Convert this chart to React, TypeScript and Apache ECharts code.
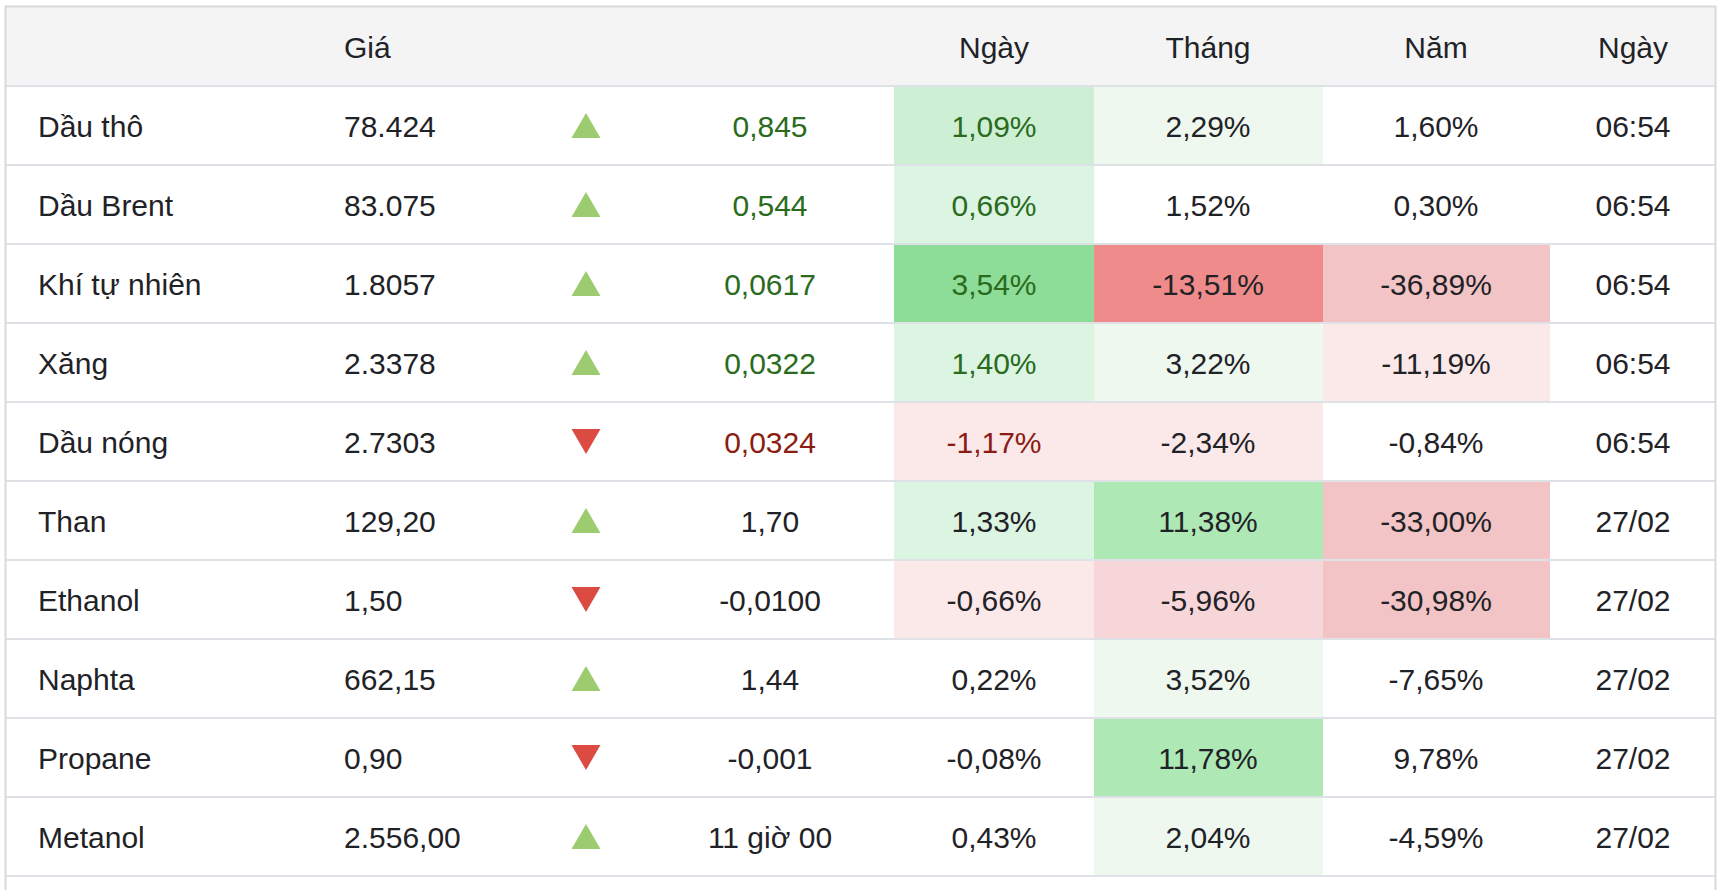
import React, { useEffect, useRef } from "react";
import * as echarts from "echarts";

// ---------- data ----------
const names = ["Dầu thô", "Dầu Brent", "Khí tự nhiên", "Xăng", "Dầu nóng", "Than", "Ethanol", "Naphta", "Propane", "Metanol"];
const prices = ["78.424", "83.075", "1.8057", "2.3378", "2.7303", "129,20", "1,50", "662,15", "0,90", "2.556,00"];
const direction = [1, 1, 1, 1, -1, 1, -1, 1, -1, 1];
const changes = ["0,845", "0,544", "0,0617", "0,0322", "0,0324", "1,70", "-0,0100", "1,44", "-0,001", "11 giờ 00"];
const dayPct = ["1,09%", "0,66%", "3,54%", "1,40%", "-1,17%", "1,33%", "-0,66%", "0,22%", "-0,08%", "0,43%"];
const monthPct = ["2,29%", "1,52%", "-13,51%", "3,22%", "-2,34%", "11,38%", "-5,96%", "3,52%", "11,78%", "2,04%"];
const yearPct = ["1,60%", "0,30%", "-36,89%", "-11,19%", "-0,84%", "-33,00%", "-30,98%", "-7,65%", "9,78%", "-4,59%"];
const times = ["06:54", "06:54", "06:54", "06:54", "06:54", "27/02", "27/02", "27/02", "27/02", "27/02"];
// heat intensity of the coloured cells (-4 strong red … 5 strong green)
const dayHeat = [3, 2, 5, 2, -1, 2, -1, 0, 0, 0];
const monthHeat = [1, 0, -4, 1, -1, 4, -2, 1, 4, 1];
const yearHeat = [0, 0, -3, -1, 0, -3, -3, 0, 0, 0];
const headerLabels = ["Giá", "Ngày", "Tháng", "Năm", "Ngày"];

// ---------- layout / style ----------
const FONT = "'Liberation Sans', Arial, Helvetica, sans-serif";
const FS = 30;
const DARK = "#1f2226";
const GREEN_TXT = "#2a6b1e";
const RED_TXT = "#8b1c13";
const LINE = "#dee2e6";
const TABLE_L = 6;
const TABLE_R = 1715;
const HEAD_T = 7;
const BODY_T = 86;
const ROW_H = 79;
const NAME_X = 38;
const PRICE_X = 344;
const TRI_X = 586;
const CHANGE_X = 770;
const HEAT_COLS = [
  [894, 1094],
  [1094, 1323],
  [1323, 1550],
];
const TIME_X = 1633;
const HEADER_X = [PRICE_X, 994, 1208, 1436, TIME_X];
const HEADER_ALIGN = ["left", "center", "center", "center", "center"];
const HEAT_PALETTE: Record<number, string> = {
  5: "#8ddc97",
  4: "#ade8b5",
  3: "#cdf0d5",
  2: "#dcf4e2",
  1: "#eef8ef",
  0: "#ffffff",
  [-1]: "#fbe9ea",
  [-2]: "#f6d6d8",
  [-3]: "#f2c4c5",
  [-4]: "#ef8b8b",
};

const isLive = (r: number) => times[r].includes(":");
const signColor = (r: number) => (isLive(r) ? (direction[r] > 0 ? GREEN_TXT : RED_TXT) : DARK);

function textSeries(anchorX: number, align: string, texts: string[], colorFn: (r: number) => string) {
  return {
    type: "custom",
    z: 5,
    data: texts.map((_, r) => [anchorX, r]),
    renderItem: (params: any, api: any) => {
      const pt = api.coord([api.value(0), api.value(1)]);
      const r = params.dataIndex;
      return {
        type: "text",
        x: pt[0],
        y: pt[1] + 1,
        style: {
          text: texts[r],
          fill: colorFn(r),
          fontSize: FS,
          fontFamily: FONT,
          align,
          verticalAlign: "middle",
          textAlign: align,
          textVerticalAlign: "middle",
        },
      };
    },
  };
}

export default function App() {
  const ref = useRef<HTMLDivElement>(null);

  useEffect(() => {
    if (!ref.current) return;
    const chart = echarts.init(ref.current, null, { renderer: "svg" });

    const heatData: number[][] = [];
    [dayHeat, monthHeat, yearHeat].forEach((col, c) => col.forEach((v, r) => heatData.push([c, r, v])));

    const graphic: any[] = [
      {
        type: "rect",
        shape: { x: TABLE_L, y: HEAD_T, width: TABLE_R - TABLE_L, height: BODY_T - HEAD_T },
        style: { fill: "#f4f4f4" },
        z: 0,
      },
      { type: "line", shape: { x1: TABLE_L - 1, y1: HEAD_T - 0.5, x2: TABLE_R + 1, y2: HEAD_T - 0.5 }, style: { stroke: "#d9d9d9", lineWidth: 2 }, z: 20 },
      { type: "line", shape: { x1: TABLE_L, y1: BODY_T, x2: TABLE_R, y2: BODY_T }, style: { stroke: LINE, lineWidth: 2 }, z: 20 },
      { type: "line", shape: { x1: TABLE_L - 0.5, y1: HEAD_T - 1.5, x2: TABLE_L - 0.5, y2: 890 }, style: { stroke: "#d9d9d9", lineWidth: 2 }, z: 20 },
      { type: "line", shape: { x1: TABLE_R + 0.5, y1: HEAD_T - 1.5, x2: TABLE_R + 0.5, y2: 890 }, style: { stroke: "#d9d9d9", lineWidth: 2 }, z: 20 },
      ...headerLabels.map((t, i) => ({
        type: "text",
        x: HEADER_X[i],
        y: (HEAD_T + BODY_T) / 2 + 1,
        z: 21,
        style: {
          text: t,
          fill: DARK,
          fontSize: FS,
          fontFamily: FONT,
          align: HEADER_ALIGN[i],
          verticalAlign: "middle",
          textAlign: HEADER_ALIGN[i],
          textVerticalAlign: "middle",
        },
      })),
    ];

    chart.setOption({
      animation: false,
      backgroundColor: "#ffffff",
      grid: { left: TABLE_L, top: BODY_T, width: TABLE_R - TABLE_L, height: ROW_H * names.length },
      xAxis: { type: "value", min: TABLE_L, max: TABLE_R, show: false },
      yAxis: {
        type: "category",
        data: names,
        inverse: true,
        axisLine: { show: false },
        axisTick: { show: false },
        axisLabel: { show: false },
        splitLine: { show: true, interval: 0, lineStyle: { color: LINE, width: 2 } },
      },
      visualMap: {
        type: "piecewise",
        show: false,
        dimension: 2,
        seriesIndex: 0,
        pieces: Object.keys(HEAT_PALETTE).map((k) => ({ value: Number(k), color: HEAT_PALETTE[Number(k)] })),
      },
      graphic,
      series: [
        {
          type: "custom",
          z: 1,
          data: heatData,
          renderItem: (params: any, api: any) => {
            const c = api.value(0);
            const r = api.value(1);
            const [x0, x1] = HEAT_COLS[c];
            const p0 = api.coord([x0, r]);
            const p1 = api.coord([x1, r]);
            const h = api.size([0, 1])[1];
            return {
              type: "rect",
              shape: { x: p0[0], y: p0[1] - h / 2 + 1, width: p1[0] - p0[0], height: h - 2 },
              style: { fill: api.visual("color") },
            };
          },
        },
        {
          type: "scatter",
          z: 5,
          symbol: "triangle",
          symbolSize: [29, 25],
          itemStyle: { opacity: 1 },
          data: direction.map((d, r) => ({
            value: [TRI_X, r],
            symbolRotate: d > 0 ? 0 : 180,
            itemStyle: { color: d > 0 ? "#9ccc6f" : "#dc4b42", opacity: 1 },
          })),
        },
        textSeries(NAME_X, "left", names, () => DARK),
        textSeries(PRICE_X, "left", prices, () => DARK),
        textSeries(CHANGE_X, "center", changes, signColor),
        textSeries(994, "center", dayPct, signColor),
        textSeries(1208, "center", monthPct, () => DARK),
        textSeries(1436, "center", yearPct, () => DARK),
        textSeries(TIME_X, "center", times, () => DARK),
      ],
    });

    return () => chart.dispose();
  }, []);

  return (
    <div
      ref={ref}
      style={{ position: "fixed", left: 0, top: 0, width: 1724, height: 890, background: "#ffffff" }}
    />
  );
}
